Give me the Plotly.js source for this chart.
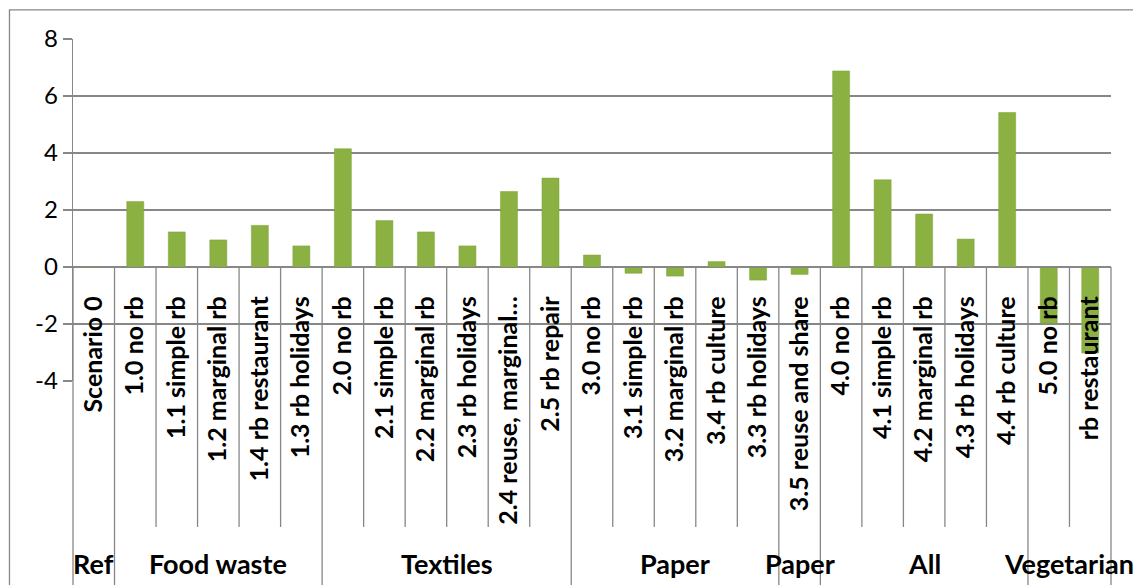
<!DOCTYPE html>
<html>
<head>
<meta charset="utf-8">
<script src="https://cdn.plot.ly/plotly-3.0.1.min.js"></script>
<style>html,body{margin:0;padding:0;background:#fff;}#chart{width:1133px;height:585px;}</style>
</head>
<body>
<div id="chart"></div>
<script>
// ---- data ----
const categories = [
  "Scenario 0",
  "1.0 no rb", "1.1 simple rb", "1.2 marginal rb", "1.4 rb restaurant", "1.3 rb holidays",
  "2.0 no rb", "2.1 simple rb", "2.2 marginal rb", "2.3 rb holidays", "2.4 reuse, marginal…", "2.5 rb repair",
  "3.0 no rb", "3.1 simple rb", "3.2 marginal rb", "3.4 rb culture", "3.3 rb holidays",
  "3.5 reuse and share",
  "4.0 no rb", "4.1 simple rb", "4.2 marginal rb", "4.3 rb holidays", "4.4 rb culture",
  "5.0 no rb", "rb restaurant"
];
const values = [
  0,
  2.3, 1.23, 0.95, 1.46, 0.74,
  4.15, 1.63, 1.23, 0.74, 2.65, 3.12,
  0.42, -0.22, -0.32, 0.19, -0.46,
  -0.26,
  6.88, 3.06, 1.86, 0.98, 5.42,
  -1.97, -3.02
];
const groups = ["Ref", "Food waste", "Textiles", "Paper", "Paper", "All", "Vegetarian"];
const groupSizes = [1, 5, 6, 5, 1, 5, 2];
const yTicks = [-4, -2, 0, 2, 4, 6, 8];

// ---- layout helpers ----
const N = categories.length;
const lineCol = "#878787";
const shapes = [];
const annotations = [];
const groupBounds = new Set([0]);
let start = 0;
groups.forEach((g, gi) => {
  const end = start + groupSizes[gi];
  groupBounds.add(end);
  annotations.push({
    x: (start + end - 1) / 2, xref: "x", y: -0.533, yref: "paper",
    text: "<b>" + g + "</b>", showarrow: false,
    font: {family: "Lato, sans-serif", size: 27, color: "#000"},
    xanchor: "center", yanchor: "middle"
  });
  start = end;
});
for (let k = 0; k <= N; k++) {
  const xp = k / N;
  const isGroup = groupBounds.has(k);
  shapes.push({
    type: "line", xref: "paper", yref: "paper",
    x0: xp, x1: xp, y0: 1/3, y1: isGroup ? -0.7 : -0.427,
    line: {color: lineCol, width: 1.3}
  });
}
// outer chart frame
shapes.push({
  type: "rect", xref: "paper", yref: "paper",
  x0: -0.0612, x1: 1.1, y0: -0.7, y1: 1.085,
  line: {color: lineCol, width: 1.3}, fillcolor: "rgba(0,0,0,0)"
});

const trace = {
  type: "bar",
  x: categories,
  y: values,
  marker: {color: "#8ab142", line: {color: "#7fa33c", width: 0.5}},
  hoverinfo: "x+y"
};

const layout = {
  width: 1133, height: 585,
  margin: {l: 73, r: 22, t: 39, b: 204},
  paper_bgcolor: "#fff", plot_bgcolor: "#fff",
  showlegend: false,
  bargap: 0.59,
  xaxis: {
    type: "category",
    anchor: "free", position: 1/3,
    range: [-0.5, N - 0.5],
    tickangle: -90,
    tickfont: {family: "Lato, sans-serif", size: 25, color: "#000", weight: "bold"},
    showline: true, linecolor: lineCol, linewidth: 1.3,
    ticks: "", ticklabelstandoff: 18,
    showgrid: false, zeroline: false
  },
  yaxis: {
    range: [-4, 8],
    tickvals: yTicks,
    ticktext: yTicks.map(String),
    tickfont: {family: "Lato, sans-serif", size: 24, color: "#000"},
    ticks: "outside", ticklen: 9, tickcolor: lineCol, tickwidth: 1.3,
    showgrid: true, gridcolor: lineCol, gridwidth: 1.3,
    showline: true, linecolor: lineCol, linewidth: 1.3,
    zeroline: false
  },
  shapes: shapes,
  annotations: annotations
};

Plotly.newPlot("chart", [trace], layout, {displayModeBar: false, staticPlot: true});
</script>
</body>
</html>
